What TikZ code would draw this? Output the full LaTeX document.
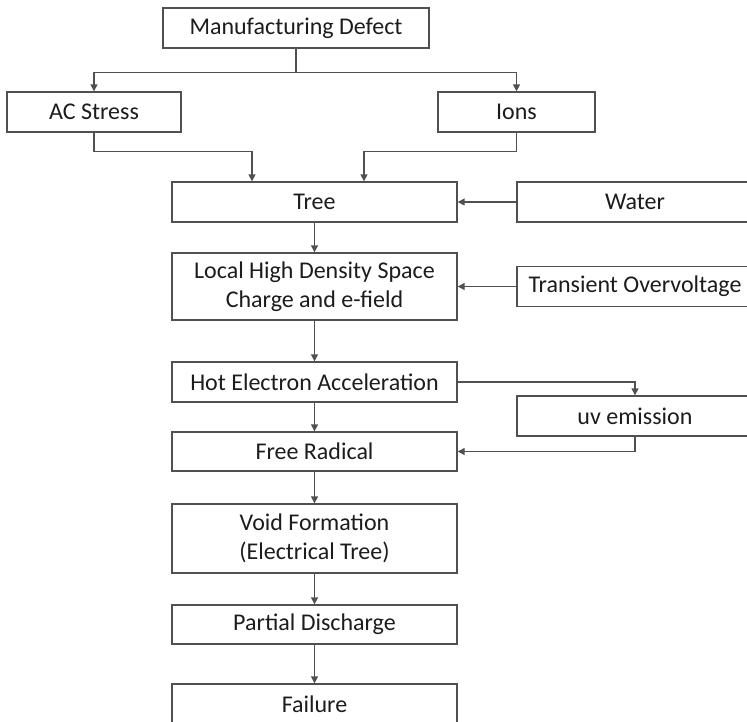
\documentclass[tikz,border=0pt]{standalone}
\usepackage{fontspec}
\setmainfont{Carlito}
\usetikzlibrary{arrows.meta}
\definecolor{boxline}{RGB}{80,80,80}
\definecolor{txt}{RGB}{28,28,28}

\begin{document}
\begin{tikzpicture}[x=1pt, y=-1pt, line width=1.4pt,
  every node/.style={font=\fontsize{24}{29}\selectfont, text=txt},
  box/.style={draw=boxline, rectangle, align=center, inner sep=0pt, minimum height=40pt},
  arr/.style={draw=boxline, -{Triangle[length=7pt,width=7pt]}}]
  \useasboundingbox (0,0) rectangle (747,721);

  % causes
  \node[box, minimum width=266pt] (md) at (296, 28) {Manufacturing Defect};
  \node[box, minimum width=174pt] (ac) at (94, 112) {AC Stress};
  \node[box, minimum width=157pt] (ions) at (516.5, 112) {Ions};

  % main chain
  \node[box, minimum width=285pt] (tree) at (314.5, 202) {Tree};
  \node[box, minimum width=285pt, minimum height=67pt] (lhd) at (314.5, 286.5) {Local High Density Space\\Charge and e-field};
  \node[box, minimum width=285pt] (hea) at (314.5, 382) {Hot Electron Acceleration};
  \node[box, minimum width=285pt, minimum height=39pt] (fr) at (314.5, 451.5) {Free Radical};
  \node[box, minimum width=285pt, minimum height=69pt] (void) at (314.5, 538.5) {Void Formation\\(Electrical Tree)};
  \node[box, minimum width=285pt, minimum height=39pt] (pd) at (314.5, 624.5) {Partial Discharge};
  \node[box, minimum width=285pt] (fail) at (314.5, 704) {Failure};

  % side inputs
  \node[box, minimum width=236pt] (water) at (635, 202) {Water};
  \node[box, minimum width=236pt] (trans) at (635, 286.5) {Transient Overvoltage};
  \node[box, minimum width=236pt] (uv) at (635, 416) {uv emission};

  % arrows
  \draw[boxline] (md.south) -- ++(0,24) coordinate (split);
  \draw[arr] (split) -| (ac);
  \draw[arr] (split) -| (ions);
  \draw[arr] (ac.south) -- ++(0,19) -| ([xshift=-62.5pt]tree.north);
  \draw[arr] (ions.south) -- ++(0,19) -| ([xshift=49.5pt]tree.north);
  \draw[arr] (water) -- (tree);
  \draw[arr] (trans) -- (lhd);
  \draw[arr] (hea) -| (uv);
  \draw[arr] (uv) |- (fr);
  \foreach \a/\b in {tree/lhd, lhd/hea, hea/fr, fr/void, void/pd, pd/fail}
    \draw[arr] (\a) -- (\b);
\end{tikzpicture}
\end{document}
